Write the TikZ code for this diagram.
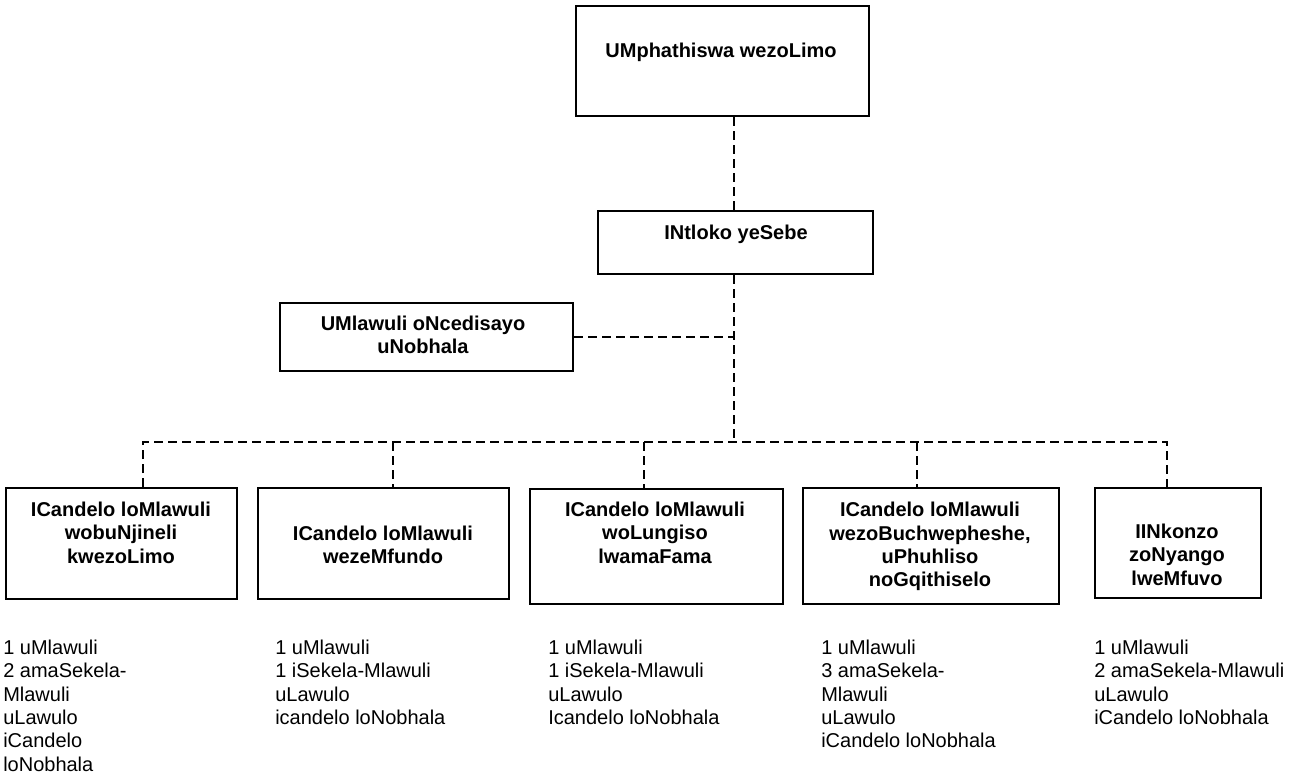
\documentclass[tikz,border=0pt]{standalone}
\usepackage{fontspec}
\setmainfont{Liberation Sans}
\begin{document}
\begin{tikzpicture}[x=0.75pt,y=-0.75pt,
  bx/.style 2 args={draw, line width=1.6pt, inner sep=0pt, anchor=north west,
    minimum width=#1*0.75pt, minimum height=#2*0.75pt},
  btxt/.style={align=center, inner sep=0pt, anchor=center,
    font=\bfseries\fontsize{15}{17.5}\selectfont},
  ltxt/.style={align=left, inner sep=0pt, anchor=north west,
    font=\fontsize{15}{17.5}\selectfont},
  conn/.style={line width=1.4pt, dash pattern=on 7pt off 3.5pt}]
\useasboundingbox (0,0) rectangle (1304,775);
% boxes
\node[bx={293}{110}] (top) at (575,5) {};
\node[bx={275}{63}] (intl) at (597,210) {};
\node[bx={293}{68}] (sec) at (279,302) {};
\node[bx={231}{111}] (b1) at (5,487) {};
\node[bx={251}{111}] (b2) at (257,487) {};
\node[bx={253}{115}] (b3) at (529,488) {};
\node[bx={256}{116}] (b4) at (802,487) {};
\node[bx={166}{110}] (b5) at (1094,487) {};
% box texts
\node[btxt] (topT) at (721,53) {\strut UMphathiswa wezoLimo};
\node[btxt] (intlT) at (736,235) {\strut INtloko yeSebe};
\node[btxt] (secT) at (423,337) {\strut UMlawuli oNcedisayo\\\strut uNobhala};
\node[btxt] (b1T) at (121,535) {\strut ICandelo loMlawuli\\\strut wobuNjineli\\\strut kwezoLimo};
\node[btxt] (b2T) at (383,547) {\strut ICandelo loMlawuli\\\strut wezeMfundo};
\node[btxt] (b3T) at (655,535) {\strut ICandelo loMlawuli\\\strut woLungiso\\\strut lwamaFama};
\node[btxt] (b4T) at (930,547) {\strut ICandelo loMlawuli\\\strut wezoBuchwepheshe,\\\strut uPhuhliso\\\strut noGqithiselo};
\node[btxt] (b5T) at (1177,557) {\strut IINkonzo\\\strut zoNyango\\\strut lweMfuvo};
% lists
\node[ltxt] (l1) at (3,638) {\strut 1 uMlawuli\\\strut 2 amaSekela-\\\strut Mlawuli\\\strut uLawulo\\\strut iCandelo\\\strut loNobhala};
\node[ltxt] (l2) at (275,638) {\strut 1 uMlawuli\\\strut 1 iSekela-Mlawuli\\\strut uLawulo\\\strut icandelo loNobhala};
\node[ltxt] (l3) at (548,638) {\strut 1 uMlawuli\\\strut 1 iSekela-Mlawuli\\\strut uLawulo\\\strut Icandelo loNobhala};
\node[ltxt] (l4) at (821,638) {\strut 1 uMlawuli\\\strut 3 amaSekela-\\\strut Mlawuli\\\strut uLawulo\\\strut iCandelo loNobhala};
\node[ltxt] (l5) at (1094,638) {\strut 1 uMlawuli\\\strut 2 amaSekela-Mlawuli\\\strut uLawulo\\\strut iCandelo loNobhala};
% connectors
\coordinate (j) at (734,442);
\coordinate (c1) at (143,442);
\coordinate (c2) at (393,442);
\coordinate (c3) at (644,442);
\coordinate (c4) at (917,442);
\coordinate (c5) at (1167,442);
\draw[conn] (j |- top.south) -- (j |- intl.north);
\draw[conn] (j |- intl.south) -- (j);
\draw[conn] (sec.east) -- (sec.east -| j);
\draw[conn] (c1 |- b1.north) -- (c1) -- (c5) -- (c5 |- b5.north);
\draw[conn] (c2) -- (c2 |- b2.north);
\draw[conn] (c3) -- (c3 |- b3.north);
\draw[conn] (c4) -- (c4 |- b4.north);
\end{tikzpicture}
\end{document}
